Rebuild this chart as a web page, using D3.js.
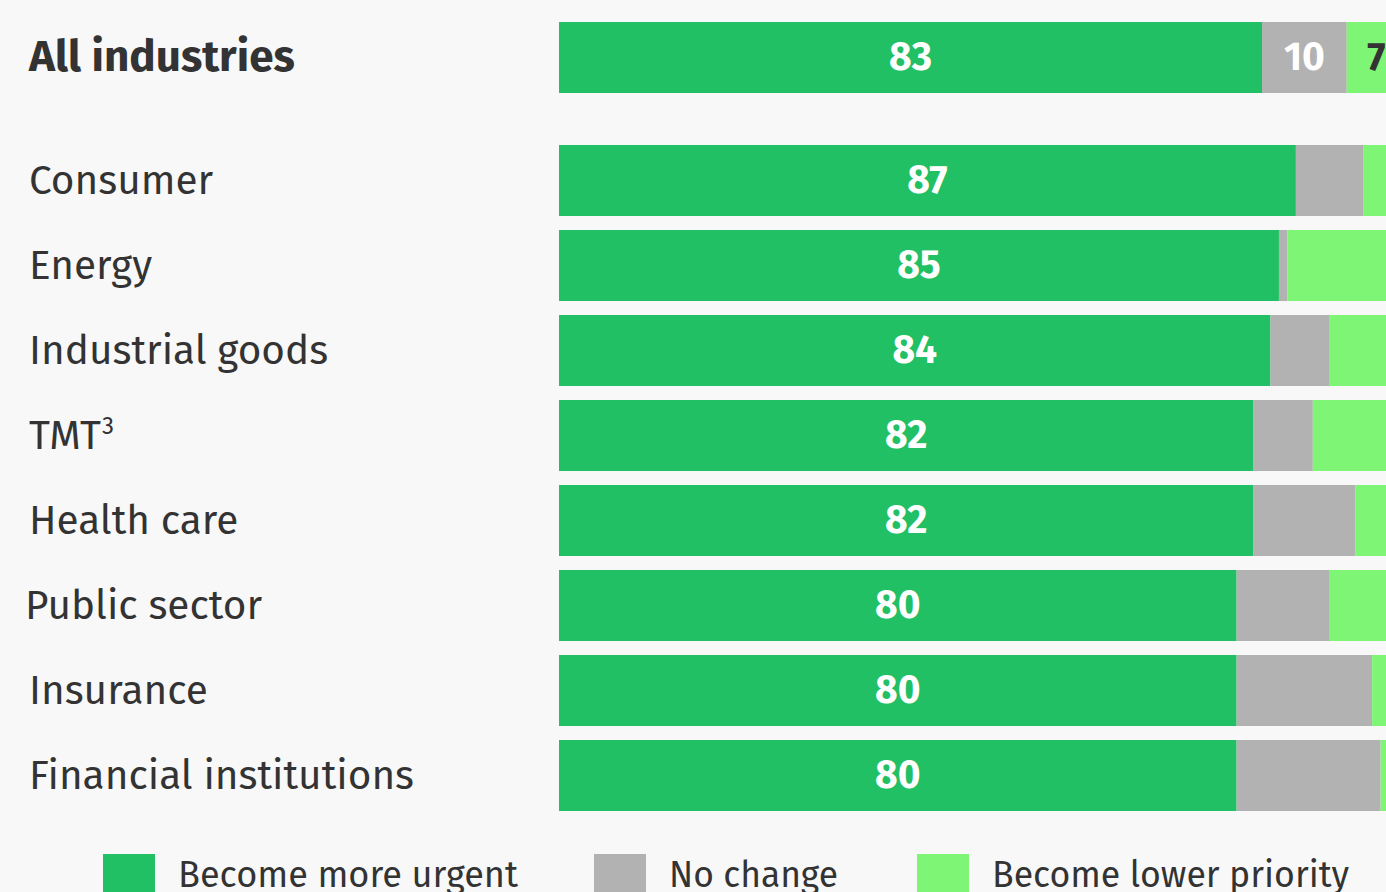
<!DOCTYPE html>
<html>
<head>
<meta charset="utf-8">
<script src="https://cdn.jsdelivr.net/npm/d3@7"></script>
<style>
  html, body { margin: 0; padding: 0; background: #f8f8f8; overflow: hidden; }
  svg { display: block; font-family: "Fira Sans", "Open Sans", "Noto Sans", sans-serif; }
</style>
</head>
<body>
<div id="chart"></div>
<script>
// Data
const categories = ["All industries", "Consumer", "Energy", "Industrial goods", "TMT", "Health care", "Public sector", "Insurance", "Financial institutions"];
const moreUrgent = [83, 87, 85, 84, 82, 82, 80, 80, 80];
const noChange   = [10, 8, 1, 7, 7, 12, 11, 16, 17];
const lowerPrio  = [7, 5, 14, 9, 11, 6, 9, 4, 3];
const seriesNames = ["Become more urgent", "No change", "Become lower priority"];
const colors = ["#22c064", "#b2b2b2", "#7ef575"];

const width = 1386, height = 892;

const svg = d3.select("#chart").append("svg")
    .attr("width", width)
    .attr("height", height);

// Build rows for stacking
const rows = categories.map((c, i) => ({
    cat: c, more: moreUrgent[i], none: noChange[i], lower: lowerPrio[i]
}));
const stack = d3.stack().keys(["more", "none", "lower"])(rows);

// Scales
const x = d3.scaleLinear().domain([0, 100]).range([559, 1406]);
const yPos = i => i === 0 ? 22 : 145 + (i - 1) * 85;
const barH = 71;

// Bars
const layer = svg.append("g").selectAll("g")
    .data(stack)
    .enter().append("g")
    .attr("fill", (d, i) => colors[i]);

layer.selectAll("rect")
    .data(d => d.map((v, i) => ({ v, i })))
    .enter().append("rect")
    .attr("x", d => x(d.v[0]))
    .attr("y", d => yPos(d.i))
    .attr("width", d => x(d.v[1]) - x(d.v[0]))
    .attr("height", barH);

// Category labels
svg.append("g").selectAll("text")
    .data(categories)
    .enter().append("text")
    .attr("x", (d, i) => i === 6 ? 25 : 29)
    .attr("y", (d, i) => yPos(i) + barH / 2 + 13)
    .attr("font-size", (d, i) => i === 0 ? 44 : 40.5)
    .attr("font-weight", (d, i) => i === 0 ? 700 : 400)
    .attr("fill", "#333")
    .each(function(d) {
        const t = d3.select(this);
        if (d === "TMT") {
            t.append("tspan").text("TMT");
            t.append("tspan").attr("font-size", 24).attr("dx", 1).attr("dy", -15).text("3");
        } else {
            t.text(d);
        }
    });

// Value labels: green segment for all rows
svg.append("g").selectAll("text")
    .data(rows)
    .enter().append("text")
    .attr("x", d => (x(0) + x(d.more)) / 2)
    .attr("y", (d, i) => yPos(i) + barH / 2 + 12)
    .attr("text-anchor", "middle")
    .attr("font-size", 39)
    .attr("font-weight", 700)
    .attr("fill", "#fff")
    .text(d => d.more);

// Other labels on "All industries" only
const first = rows[0];
svg.append("text")
    .attr("x", (x(first.more) + x(first.more + first.none)) / 2)
    .attr("y", yPos(0) + barH / 2 + 12)
    .attr("text-anchor", "middle")
    .attr("font-size", 39)
    .attr("font-weight", 700)
    .attr("fill", "#fff")
    .text(first.none);
svg.append("text")
    .attr("x", (x(first.more + first.none) + x(100)) / 2)
    .attr("y", yPos(0) + barH / 2 + 12)
    .attr("text-anchor", "middle")
    .attr("font-size", 39)
    .attr("font-weight", 700)
    .attr("fill", "#333")
    .text(first.lower);

// Legend
const legendX = [103, 594, 917];
const legendW = [340, 169, 357];
const legend = svg.append("g").selectAll("g")
    .data(seriesNames)
    .enter().append("g")
    .attr("transform", (d, i) => `translate(${legendX[i]},854)`);

legend.append("rect")
    .attr("width", 52)
    .attr("height", 52)
    .attr("fill", (d, i) => colors[i]);

legend.append("text")
    .attr("x", 75)
    .attr("y", 33)
    .attr("font-size", 36)
    .attr("fill", "#333")
    .attr("textLength", (d, i) => legendW[i])
    .attr("lengthAdjust", "spacingAndGlyphs")
    .text(d => d);
</script>
</body>
</html>
